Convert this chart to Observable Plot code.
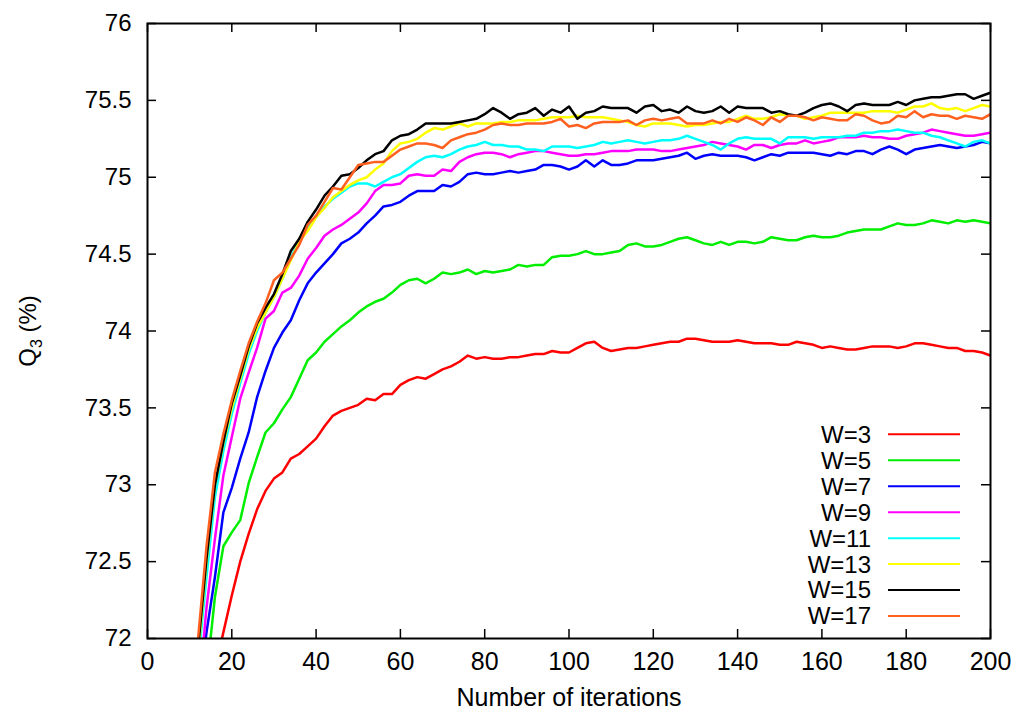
<!DOCTYPE html>
<html>
<head>
<meta charset="utf-8">
<script src="https://cdn.jsdelivr.net/npm/d3@7"></script>
<script src="https://cdn.jsdelivr.net/npm/@observablehq/plot@0.6"></script>
<style>
  body { margin: 0; background: #fff; }
  #chart svg { display: block; }
</style>
</head>
<body>
<div id="chart"></div>
<script>
// Q3 accuracy (%) against the number of training iterations, one curve per window size W.
const iterations = d3.range(10, 201, 2);   // 10, 12, ..., 200

const seriesNames  = ["W=3", "W=5", "W=7", "W=9", "W=11", "W=13", "W=15", "W=17"];
const seriesColors = ["#ff0000", "#00ee00", "#0000ff", "#ff00ff", "#00ffff", "#ffff00", "#000000", "#ff6020"];

const w3 = [
  70.9, 71.2, 71.5, 71.8, 72.04, 72.28, 72.5, 72.68, 72.84, 72.96,
  73.04, 73.08, 73.17, 73.2, 73.25, 73.3, 73.38, 73.45, 73.48, 73.5,
  73.52, 73.56, 73.55, 73.59, 73.59, 73.65, 73.68, 73.7, 73.69, 73.72,
  73.75, 73.77, 73.8, 73.84, 73.82, 73.83, 73.82, 73.82, 73.83, 73.83,
  73.84, 73.85, 73.85, 73.87, 73.86, 73.86, 73.89, 73.92, 73.93, 73.89,
  73.87, 73.88, 73.89, 73.89, 73.9, 73.91, 73.92, 73.93, 73.93, 73.95,
  73.95, 73.94, 73.93, 73.93, 73.93, 73.94, 73.93, 73.92, 73.92, 73.92,
  73.91, 73.91, 73.93, 73.92, 73.91, 73.89, 73.9, 73.89, 73.88, 73.88,
  73.89, 73.9, 73.9, 73.9, 73.89, 73.9, 73.92, 73.92, 73.91, 73.9,
  73.89, 73.89, 73.87, 73.87, 73.86, 73.84
];
const w5 = [
  70.6, 71.2, 71.75, 72.27, 72.6, 72.69, 72.77, 73.01, 73.18, 73.34,
  73.4, 73.49, 73.57, 73.69, 73.81, 73.86, 73.93, 73.98, 74.03, 74.07,
  74.12, 74.16, 74.19, 74.21, 74.25, 74.3, 74.33, 74.34, 74.31, 74.34,
  74.38, 74.37, 74.38, 74.4, 74.37, 74.39, 74.38, 74.39, 74.4, 74.43,
  74.42, 74.43, 74.43, 74.48, 74.49, 74.49, 74.5, 74.52, 74.5, 74.5,
  74.51, 74.52, 74.56, 74.57, 74.55, 74.55, 74.56, 74.58, 74.6, 74.61,
  74.59, 74.57, 74.56, 74.58, 74.56, 74.58, 74.58, 74.57, 74.58, 74.61,
  74.6, 74.59, 74.59, 74.61, 74.62, 74.61, 74.61, 74.62, 74.64, 74.65,
  74.66, 74.66, 74.66, 74.68, 74.7, 74.69, 74.69, 74.7, 74.72, 74.71,
  74.7, 74.72, 74.71, 74.72, 74.71, 74.7
];
const w7 = [
  71.1, 71.6, 72.04, 72.4, 72.82, 72.98, 73.17, 73.34, 73.57, 73.74,
  73.89, 73.99, 74.07, 74.2, 74.31, 74.38, 74.44, 74.5, 74.57, 74.6,
  74.64, 74.7, 74.75, 74.81, 74.82, 74.84, 74.88, 74.91, 74.91, 74.91,
  74.95, 74.94, 74.97, 75.02, 75.03, 75.02, 75.02, 75.03, 75.04, 75.03,
  75.04, 75.05, 75.08, 75.08, 75.07, 75.05, 75.07, 75.11, 75.07, 75.11,
  75.08, 75.08, 75.09, 75.11, 75.11, 75.11, 75.12, 75.13, 75.14, 75.16,
  75.12, 75.14, 75.15, 75.14, 75.14, 75.14, 75.13, 75.11, 75.13, 75.15,
  75.14, 75.16, 75.16, 75.16, 75.16, 75.15, 75.14, 75.16, 75.15, 75.17,
  75.17, 75.15, 75.18, 75.2, 75.18, 75.15, 75.18, 75.19, 75.2, 75.21,
  75.2, 75.19, 75.2, 75.21, 75.23, 75.22
];
const w9 = [
  71.1, 71.6, 72.2, 72.65, 73.06, 73.31, 73.56, 73.73, 73.89, 74.08,
  74.13, 74.25, 74.28, 74.36, 74.47, 74.54, 74.62, 74.66, 74.69, 74.73,
  74.77, 74.83, 74.91, 74.95, 74.95, 74.96, 75.01, 75.02, 75.01, 75.01,
  75.05, 75.04, 75.1, 75.13, 75.15, 75.16, 75.16, 75.15, 75.13, 75.15,
  75.16, 75.17, 75.17, 75.16, 75.15, 75.14, 75.14, 75.15, 75.15, 75.16,
  75.17, 75.17, 75.17, 75.18, 75.18, 75.18, 75.17, 75.17, 75.18, 75.19,
  75.2, 75.21, 75.23, 75.22, 75.21, 75.2, 75.18, 75.21, 75.21, 75.19,
  75.21, 75.22, 75.22, 75.24, 75.22, 75.23, 75.24, 75.26, 75.26, 75.26,
  75.27, 75.26, 75.26, 75.25, 75.25, 75.27, 75.28, 75.29, 75.31, 75.3,
  75.29, 75.28, 75.27, 75.27, 75.28, 75.29
];
const w11 = [
  71.3, 71.85, 72.4, 72.92, 73.22, 73.46, 73.66, 73.85, 74.0, 74.12,
  74.22, 74.34, 74.48, 74.58, 74.68, 74.74, 74.81, 74.86, 74.9, 74.94,
  74.96, 74.96, 74.94, 74.97, 75.0, 75.02, 75.06, 75.1, 75.13, 75.14,
  75.13, 75.15, 75.18, 75.2, 75.21, 75.23, 75.21, 75.21, 75.2, 75.2,
  75.18, 75.18, 75.17, 75.2, 75.2, 75.2, 75.19, 75.2, 75.21, 75.23,
  75.22, 75.23, 75.24, 75.23, 75.22, 75.23, 75.24, 75.24, 75.25, 75.27,
  75.25, 75.23, 75.21, 75.18, 75.22, 75.25, 75.26, 75.25, 75.25, 75.25,
  75.22, 75.26, 75.26, 75.26, 75.25, 75.26, 75.26, 75.26, 75.27, 75.27,
  75.29, 75.29, 75.3, 75.3, 75.31, 75.3, 75.29, 75.29, 75.27, 75.26,
  75.24, 75.22, 75.2, 75.23, 75.24, 75.22
];
const w13 = [
  71.35, 71.9, 72.5, 73.0, 73.27, 73.5, 73.69, 73.88, 74.02, 74.12,
  74.22, 74.34, 74.46, 74.58, 74.65, 74.74, 74.8, 74.87, 74.91, 74.95,
  74.98, 75.0, 75.05, 75.09, 75.17, 75.22, 75.23, 75.25, 75.29, 75.32,
  75.31, 75.33, 75.35, 75.33, 75.35, 75.35, 75.35, 75.36, 75.36, 75.37,
  75.37, 75.37, 75.38, 75.39, 75.39, 75.39, 75.4, 75.39, 75.39, 75.39,
  75.38, 75.37, 75.36, 75.34, 75.33, 75.35, 75.35, 75.35, 75.34, 75.33,
  75.34, 75.34, 75.35, 75.36, 75.36, 75.38, 75.4, 75.38, 75.38, 75.39,
  75.41, 75.4, 75.4, 75.38, 75.39, 75.4, 75.42, 75.42, 75.42, 75.42,
  75.42, 75.43, 75.43, 75.43, 75.42, 75.44, 75.46, 75.46, 75.48, 75.45,
  75.44, 75.45, 75.43, 75.45, 75.47, 75.46
];
const w15 = [
  71.4, 71.94, 72.52, 73.0, 73.28, 73.53, 73.71, 73.9, 74.05, 74.15,
  74.24, 74.37, 74.52, 74.6, 74.71, 74.79, 74.88, 74.94, 75.01, 75.02,
  75.06, 75.11, 75.15, 75.17, 75.24, 75.27, 75.28, 75.31, 75.35, 75.35,
  75.35, 75.35, 75.36, 75.37, 75.38, 75.41, 75.45, 75.42, 75.38, 75.41,
  75.42, 75.45, 75.4, 75.44, 75.42, 75.46, 75.38, 75.42, 75.43, 75.46,
  75.45, 75.45, 75.45, 75.42, 75.46, 75.47, 75.43, 75.44, 75.42, 75.46,
  75.43, 75.42, 75.43, 75.46, 75.42, 75.46, 75.45, 75.45, 75.45, 75.42,
  75.43, 75.41, 75.4, 75.42, 75.45, 75.47, 75.48, 75.46, 75.43, 75.47,
  75.48, 75.47, 75.47, 75.47, 75.49, 75.47, 75.5, 75.51, 75.52, 75.52,
  75.53, 75.54, 75.54, 75.51, 75.53, 75.55
];
const w17 = [
  71.45, 72.0, 72.6, 73.08, 73.33, 73.55, 73.74, 73.92, 74.06, 74.18,
  74.33, 74.38, 74.47, 74.56, 74.69, 74.75, 74.84, 74.93, 74.92, 75.0,
  75.08, 75.09, 75.1, 75.1, 75.14, 75.18, 75.2, 75.22, 75.22, 75.21,
  75.19, 75.24, 75.26, 75.28, 75.29, 75.31, 75.34, 75.35, 75.34, 75.34,
  75.35, 75.35, 75.35, 75.36, 75.38, 75.33, 75.34, 75.32, 75.35, 75.36,
  75.36, 75.36, 75.37, 75.34, 75.37, 75.38, 75.37, 75.38, 75.39, 75.35,
  75.35, 75.35, 75.37, 75.35, 75.38, 75.36, 75.39, 75.37, 75.34, 75.39,
  75.36, 75.4, 75.4, 75.39, 75.37, 75.39, 75.38, 75.37, 75.37, 75.41,
  75.4, 75.37, 75.35, 75.36, 75.4, 75.39, 75.43, 75.39, 75.41, 75.4,
  75.4, 75.38, 75.4, 75.39, 75.38, 75.41
];

const xTicks = [0, 20, 40, 60, 80, 100, 120, 140, 160, 180, 200];
const yTicks = [72, 72.5, 73, 73.5, 74, 74.5, 75, 75.5, 76];

// Long-format table for the line mark
const seriesValues = [w3, w5, w7, w9, w11, w13, w15, w17];
const rows = seriesNames.flatMap((name, i) =>
  seriesValues[i].map((v, j) => ({series: name, iter: iterations[j], q3: v}))
);

// Layout
const W = 1016, H = 715;
const mL = 147, mR = 26, mT = 23, mB = 77;
const innerW = W - mL - mR, innerH = H - mT - mB;
const TICK = 9;
const FONT = "'Liberation Sans', Arial, Helvetica, sans-serif";

const chart = Plot.plot({
  width: W, height: H,
  marginLeft: mL, marginRight: mR, marginTop: mT, marginBottom: mB,
  style: {fontFamily: FONT, fontSize: "24px", color: "#000", background: "#fff", overflow: "visible"},
  x: {domain: [0, 200]},
  y: {domain: [72, 76]},
  color: {domain: seriesNames, range: seriesColors},
  marks: [
    Plot.line(rows, {
      x: "iter", y: "q3", z: "series", stroke: "series",
      strokeWidth: 2.5, strokeLinejoin: "round", clip: true
    }),
    // inward ticks on all four sides of the frame
    Plot.tickY(yTicks, {y: d => d, insetRight: innerW - TICK, stroke: "#000", strokeWidth: 1.5}),
    Plot.tickY(yTicks, {y: d => d, insetLeft: innerW - TICK, stroke: "#000", strokeWidth: 1.5}),
    Plot.tickX(xTicks, {x: d => d, insetTop: innerH - TICK, stroke: "#000", strokeWidth: 1.5}),
    Plot.tickX(xTicks, {x: d => d, insetBottom: innerH - TICK, stroke: "#000", strokeWidth: 1.5}),
    Plot.frame({stroke: "#000", strokeWidth: 2}),
    Plot.axisY({ticks: yTicks, tickSize: 0, tickPadding: 16, tickFormat: d => String(d), label: null, fontSize: 24}),
    Plot.axisX({ticks: xTicks, tickSize: 0, tickPadding: 14, tickFormat: d => String(d), label: null, fontSize: 25}),
    Plot.text(["Number of iterations"], {
      text: d => d, frameAnchor: "bottom", lineAnchor: "middle", textAnchor: "middle", dy: 59, fontSize: 25
    }),
    Plot.text(["Q3 (%)"], {
      text: d => d, frameAnchor: "left", lineAnchor: "middle", textAnchor: "middle", dx: -119, rotate: -90, fontSize: 24
    })
  ]
});

const svg = d3.select(chart);

// Subscript "3" in the y-axis title
svg.selectAll("text").filter(function () { return this.textContent === "Q3 (%)"; })
  .each(function () {
    const t = d3.select(this);
    t.text(null);
    t.append("tspan").text("Q");
    t.append("tspan").attr("font-size", 16).attr("dy", 6).text("3");
    t.append("tspan").attr("dy", -6).text(" (%)");
  });

// Key in the lower-right corner of the plot area
const key = svg.append("g").attr("font-family", FONT).attr("font-size", 24);
seriesNames.forEach((name, i) => {
  const y = 434.3 + i * 25.96;
  key.append("text")
    .attr("x", 871).attr("y", y)
    .attr("text-anchor", "end").attr("dy", "0.35em")
    .attr("fill", "#000")
    .text(name);
  key.append("line")
    .attr("x1", 888).attr("x2", 960).attr("y1", y).attr("y2", y)
    .attr("stroke", seriesColors[i]).attr("stroke-width", 2);
});

document.getElementById("chart").append(chart);
</script>
</body>
</html>
